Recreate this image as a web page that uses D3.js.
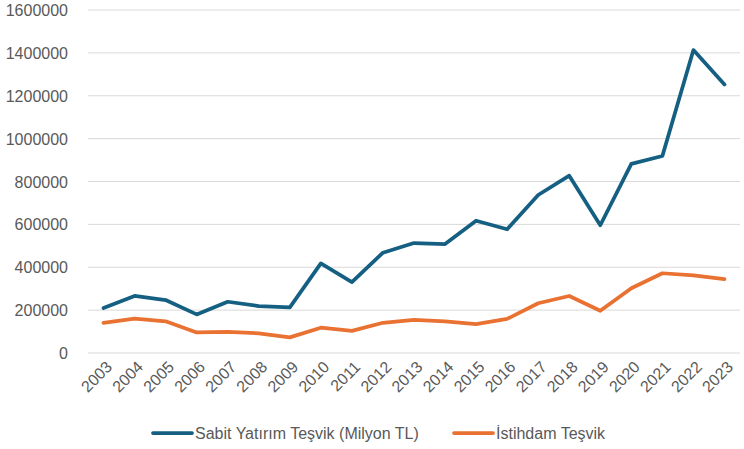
<!DOCTYPE html>
<html>
<head>
<meta charset="utf-8">
<script src="https://cdn.jsdelivr.net/npm/d3@7"></script>
<style>
  body { margin: 0; background: #fff; }
  text { font-family: "Liberation Sans", Arial, sans-serif; fill: #595959; }
</style>
</head>
<body>
<svg id="chart" width="744" height="449"></svg>
<script>
var years = ["2003","2004","2005","2006","2007","2008","2009","2010","2011","2012","2013",
             "2014","2015","2016","2017","2018","2019","2020","2021","2022","2023"];
var sabit = [210000,266000,247000,180000,239000,219000,213000,418000,331000,468000,513000,
             508000,617000,577000,737000,827000,596000,882000,919000,1413000,1253000];
var istihdam = [141000,160000,148000,96000,98000,92000,73000,118000,103000,141000,154000,
                148000,135000,159000,232000,266000,197000,302000,372000,362000,345000];
var yTicks = [0,200000,400000,600000,800000,1000000,1200000,1400000,1600000];

var svg = d3.select("#chart"),
    plotLeft = 88, plotRight = 740, plotTop = 10, plotBottom = 353;

var x = d3.scalePoint().domain(years).range([plotLeft, plotRight]).padding(0.5);
var y = d3.scaleLinear().domain([0, 1600000]).range([plotBottom, plotTop]);

// grid
svg.append("g").selectAll("line")
  .data(yTicks).enter().append("line")
  .attr("x1", plotLeft).attr("x2", plotRight)
  .attr("y1", d => y(d)).attr("y2", d => y(d))
  .attr("stroke", "#d9d9d9").attr("stroke-width", 1);

var yAxis = svg.append("g")
  .attr("transform", "translate(" + (plotLeft - 20) + ",0)")
  .call(d3.axisLeft(y).tickValues(yTicks).tickSize(0).tickPadding(0).tickFormat(d3.format("d")));
yAxis.select(".domain").remove();
yAxis.selectAll("text").style("font-size", "16px").attr("dy", "0.35em");

var xAxis = svg.append("g")
  .attr("transform", "translate(0," + plotBottom + ")")
  .call(d3.axisBottom(x).tickSize(0).tickPadding(0));
xAxis.select(".domain").remove();
xAxis.selectAll("text")
  .style("font-size", "16px")
  .attr("text-anchor", "end")
  .attr("dy", null)
  .attr("y", 0)
  .attr("transform", "translate(9,15) rotate(-45)");

var line = d3.line().x((d, i) => x(years[i])).y(d => y(d));

svg.append("path").datum(istihdam)
  .attr("d", line).attr("fill", "none")
  .attr("stroke", "#e97132").attr("stroke-width", 3.75)
  .attr("stroke-linejoin", "round").attr("stroke-linecap", "round");

svg.append("path").datum(sabit)
  .attr("d", line).attr("fill", "none")
  .attr("stroke", "#156082").attr("stroke-width", 3.75)
  .attr("stroke-linejoin", "round").attr("stroke-linecap", "round");

// legend
var legend = [
  {name: "Sabit Yatırım Teşvik (Milyon TL)", color: "#156082", x: 153},
  {name: "İstihdam Teşvik", color: "#e97132", x: 454}
];
var lg = svg.append("g").selectAll("g").data(legend).enter().append("g")
  .attr("transform", d => "translate(" + d.x + ",433)");
lg.append("line").attr("x1", 0).attr("x2", 39).attr("y1", 0).attr("y2", 0)
  .attr("stroke", d => d.color).attr("stroke-width", 3.75).attr("stroke-linecap", "round");
lg.append("text").attr("x", 42).attr("dy", "0.35em")
  .style("font-size", "16px").text(d => d.name);
</script>
</body>
</html>
